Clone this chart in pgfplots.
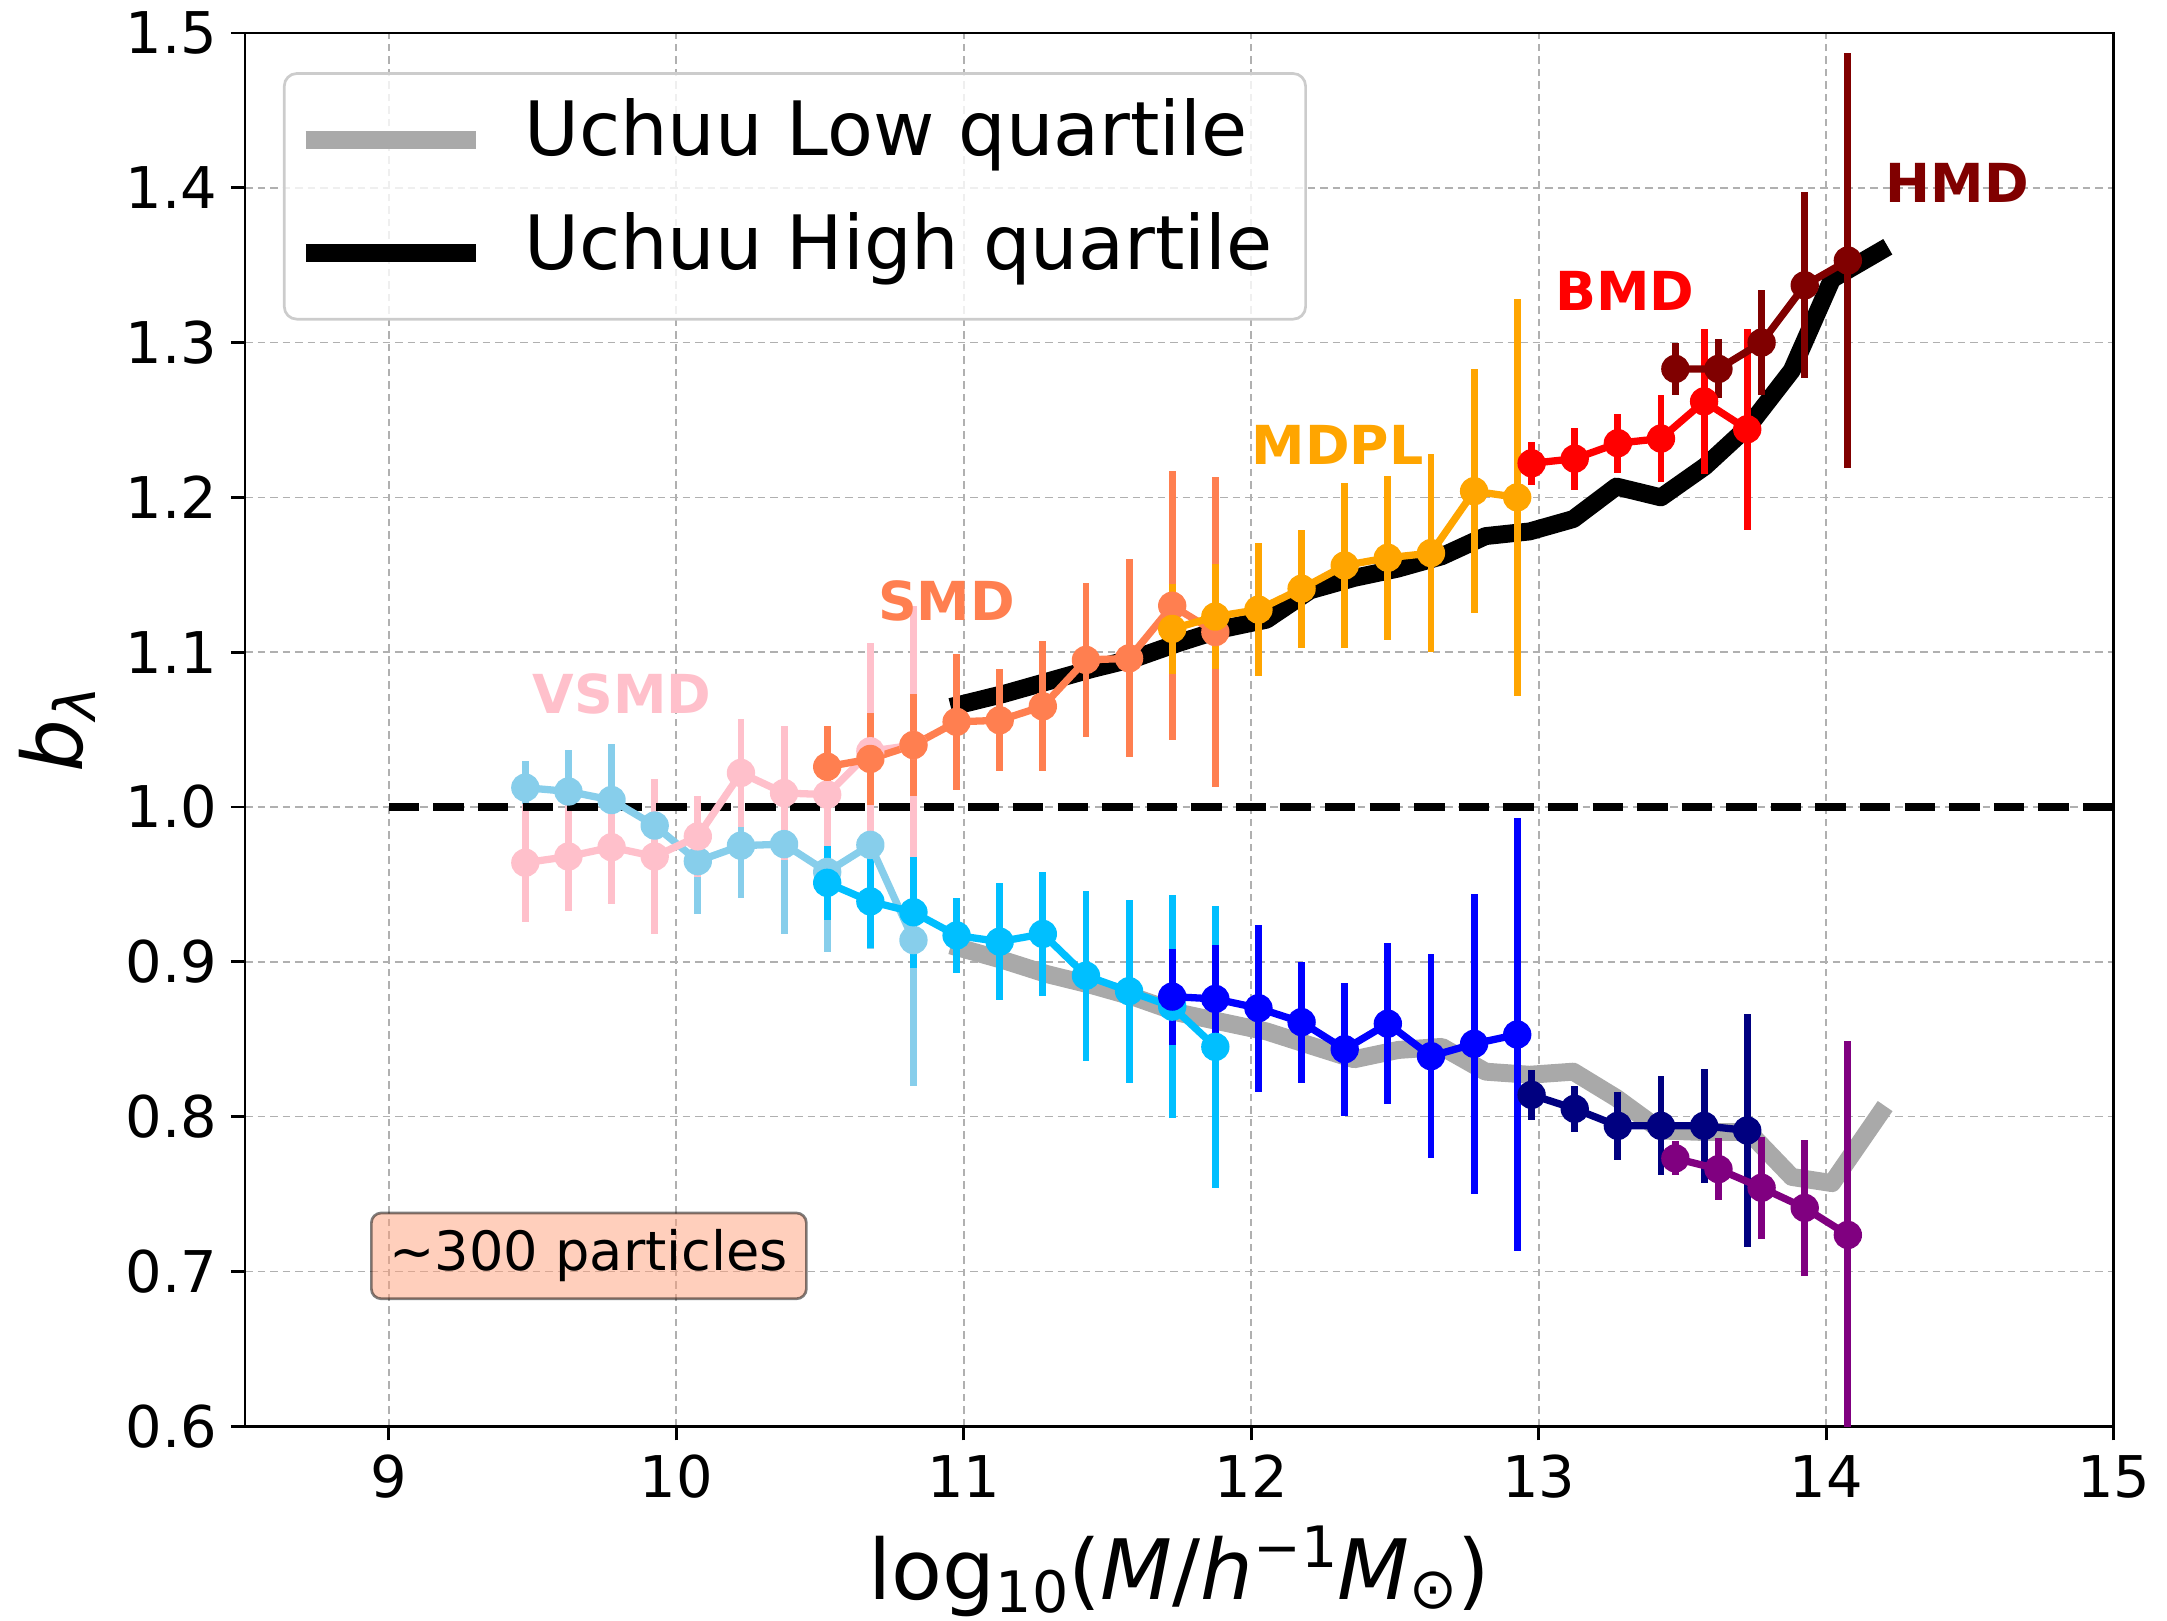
\documentclass[border=0pt]{standalone}
\usepackage{fontspec}
\setmainfont{DejaVu Sans}
\usepackage{pgfplots}
\usepackage{pgfplotstable}
\pgfplotsset{compat=1.18}

\definecolor{cpink}{HTML}{FFC0CB}
\definecolor{cskyblue}{HTML}{87CEEB}
\definecolor{ccoral}{HTML}{FF7F50}
\definecolor{cdeepsky}{HTML}{00BFFF}
\definecolor{corange}{HTML}{FFA500}
\definecolor{cblue}{HTML}{0000FF}
\definecolor{cred}{HTML}{FF0000}
\definecolor{cnavy}{HTML}{000080}
\definecolor{cmaroon}{HTML}{800000}
\definecolor{cpurple}{HTML}{800080}
\definecolor{cgray}{HTML}{A9A9A9}
\definecolor{cgrid}{HTML}{B0B0B0}
\definecolor{csalmon}{HTML}{FFA07A}
\definecolor{clegedge}{HTML}{CCCCCC}

\pgfplotstableread{
x y
10.985 0.909
11.138 0.901
11.290 0.892
11.443 0.885
11.595 0.877
11.748 0.867
11.900 0.861
12.053 0.855
12.205 0.846
12.358 0.837
12.510 0.843
12.663 0.845
12.815 0.829
12.968 0.827
13.120 0.829
13.270 0.812
13.425 0.791
13.578 0.790
13.730 0.790
13.880 0.761
14.020 0.757
14.187 0.802
}\uchuulow

\pgfplotstableread{
x y
10.985 1.066
11.138 1.073
11.290 1.081
11.443 1.089
11.595 1.096
11.748 1.106
11.900 1.115
12.053 1.121
12.205 1.140
12.358 1.148
12.510 1.154
12.663 1.162
12.815 1.175
12.968 1.178
13.120 1.186
13.270 1.207
13.425 1.200
13.578 1.220
13.730 1.246
13.880 1.282
14.020 1.341
14.187 1.359
}\uchuuhigh

\pgfplotstableread{
x y e
9.475 1.0125 0.017
9.625 1.010 0.027
9.775 1.0045 0.036
9.925 0.988 0.020
10.075 0.965 0.034
10.225 0.975 0.034
10.375 0.976 0.058
10.525 0.958 0.052
10.675 0.9755 0.067
10.825 0.914 0.094
}\vsmdlow

\pgfplotstableread{
x y e
9.475 0.964 0.038
9.625 0.968 0.035
9.775 0.974 0.037
9.925 0.968 0.050
10.075 0.981 0.026
10.225 1.022 0.035
10.375 1.009 0.043
10.525 1.008 0.034
10.675 1.036 0.070
10.825 1.040 0.090
}\vsmdhigh

\pgfplotstableread{
x y e
10.525 0.951 0.024
10.675 0.939 0.030
10.825 0.932 0.036
10.975 0.917 0.024
11.125 0.913 0.038
11.275 0.918 0.040
11.425 0.891 0.055
11.575 0.881 0.059
11.725 0.871 0.072
11.875 0.845 0.091
}\smdlow

\pgfplotstableread{
x y e
10.525 1.026 0.026
10.675 1.031 0.030
10.825 1.040 0.033
10.975 1.055 0.044
11.125 1.056 0.033
11.275 1.065 0.042
11.425 1.095 0.050
11.575 1.096 0.064
11.725 1.130 0.087
11.875 1.113 0.100
}\smdhigh

\pgfplotstableread{
x y e
11.725 0.8775 0.031
11.875 0.876 0.035
12.025 0.870 0.054
12.175 0.861 0.039
12.325 0.8435 0.043
12.475 0.860 0.052
12.625 0.839 0.066
12.775 0.847 0.097
12.925 0.853 0.140
}\mdpllow

\pgfplotstableread{
x y e
11.725 1.115 0.029
11.875 1.123 0.034
12.025 1.1275 0.043
12.175 1.141 0.038
12.325 1.156 0.053
12.475 1.161 0.053
12.625 1.164 0.064
12.775 1.204 0.079
12.925 1.200 0.128
}\mdplhigh

\pgfplotstableread{
x y e
12.975 0.814 0.016
13.125 0.805 0.015
13.275 0.794 0.022
13.425 0.794 0.032
13.575 0.794 0.037
13.725 0.791 0.075
}\bmdlow

\pgfplotstableread{
x y e
12.975 1.222 0.014
13.125 1.225 0.020
13.275 1.235 0.019
13.425 1.238 0.028
13.575 1.262 0.047
13.725 1.244 0.065
}\bmdhigh

\pgfplotstableread{
x y e
13.475 0.773 0.011
13.625 0.766 0.020
13.775 0.754 0.033
13.925 0.741 0.044
14.075 0.7235 0.125
}\hmdlow

\pgfplotstableread{
x y e
13.475 1.283 0.017
13.625 1.283 0.019
13.775 1.300 0.034
13.925 1.337 0.060
14.075 1.353 0.134
}\hmdhigh

\pgfplotsset{
  ebar/.style={forget plot, only marks, mark=none,
    error bars/.cd, y dir=both, y explicit, error mark=none,
    error bar style={line width=1.65pt, draw=#1}},
  dline/.style={forget plot, draw=#1, line width=1.75pt, line join=round,
    mark=*, mark size=3.2pt, mark options={solid, fill=#1, draw=#1, line width=0.4pt}},
}
\newcommand{\subs}[2][-3.0pt]{\raisebox{#1}{\fontsize{13.7}{16}\selectfont #2}}
\newcommand{\sups}[1]{\raisebox{7.6pt}{\fontsize{13.7}{16}\selectfont #1}}

\begin{document}
\begin{tikzpicture}
\begin{axis}[
  scale only axis, width=448.5pt, height=334.35pt,
  xmin=8.5, xmax=15, ymin=0.6, ymax=1.5,
  xtick={9,10,11,12,13,14,15},
  ytick={0.6,0.7,0.8,0.9,1.0,1.1,1.2,1.3,1.4,1.5},
  yticklabel style={/pgf/number format/fixed, /pgf/number format/fixed zerofill, /pgf/number format/precision=1},
  /pgf/number format/assume math mode=true,
  tick label style={font=\fontsize{13.8}{16}\selectfont},
  xticklabel style={anchor=north, inner sep=0pt, yshift=-3.4pt},
  yticklabel style={anchor=east, inner sep=0pt, xshift=-3.1pt},
  tick align=outside, tick pos=left, major tick length=3.4pt,
  every tick/.style={black, line width=0.65pt},
  axis line style={line width=0.65pt},
  grid=major,
  major grid style={cgrid, line width=0.4pt, dash pattern=on 1.8pt off 1.2pt},
  xlabel={log\subs{10}(\textit{M}/\textit{h}\sups{−1}\textit{M}\subs[-2.2pt]{⊙})},
  ylabel={\textit{b}\subs{\textit{λ}}},
  label style={font=\fontsize{20}{24}\selectfont},
  xlabel style={at={(axis description cs:0.5,-0.1245)}, anchor=base},
  ylabel style={at={(axis description cs:-0.0867,0.5)}, anchor=base, rotate=0},
  legend style={at={(0,1)}, anchor=north west, xshift=9.1pt, yshift=-9.4pt,
    draw=clegedge, line width=0.65pt, fill=white, fill opacity=0.8,
    draw opacity=1, text opacity=1, rounded corners=3pt,
    inner xsep=3pt, inner ysep=4.1pt, row sep=3.6pt, column sep=9.5pt,
    font=\fontsize{18}{21.6}\selectfont,
    nodes={inner xsep=0pt, inner ysep=2pt, text depth=5.9pt}},
  legend cell align=left,
  legend image code/.code={\draw[#1, line cap=butt] (0pt,0pt) -- (40.8pt,0pt);},
]
\coordinate (sw) at (rel axis cs:0,0);
\coordinate (ne) at (rel axis cs:1,1);

\addplot[cgray, line width=4.3pt, line cap=rect, line join=round] table[x=x,y=y] {\uchuulow};
\addlegendentry{Uchuu Low quartile}
\addplot[black, line width=4.3pt, line cap=rect, line join=round] table[x=x,y=y] {\uchuuhigh};
\addlegendentry{Uchuu High quartile\rule{5pt}{0pt}}

\addplot[ebar=cskyblue] table[x=x,y=y,y error=e] {\vsmdlow};
\addplot[ebar=cpink] table[x=x,y=y,y error=e] {\vsmdhigh};
\addplot[ebar=cdeepsky] table[x=x,y=y,y error=e] {\smdlow};
\addplot[ebar=ccoral] table[x=x,y=y,y error=e] {\smdhigh};
\addplot[ebar=cblue] table[x=x,y=y,y error=e] {\mdpllow};
\addplot[ebar=corange] table[x=x,y=y,y error=e] {\mdplhigh};
\addplot[ebar=cnavy] table[x=x,y=y,y error=e] {\bmdlow};
\addplot[ebar=cred] table[x=x,y=y,y error=e] {\bmdhigh};
\addplot[ebar=cpurple] table[x=x,y=y,y error=e] {\hmdlow};
\addplot[ebar=cmaroon] table[x=x,y=y,y error=e] {\hmdhigh};

\addplot[forget plot, black, line width=2.1pt, dash pattern=on 7.3pt off 3.4pt] coordinates {(9,1) (15,1)};

\addplot[dline=cskyblue] table[x=x,y=y] {\vsmdlow};
\addplot[dline=cpink] table[x=x,y=y] {\vsmdhigh};
\addplot[dline=cdeepsky] table[x=x,y=y] {\smdlow};
\addplot[dline=ccoral] table[x=x,y=y] {\smdhigh};
\addplot[dline=cblue] table[x=x,y=y] {\mdpllow};
\addplot[dline=corange] table[x=x,y=y] {\mdplhigh};
\addplot[dline=cnavy] table[x=x,y=y] {\bmdlow};
\addplot[dline=cred] table[x=x,y=y] {\bmdhigh};
\addplot[dline=cpurple] table[x=x,y=y] {\hmdlow};
\addplot[dline=cmaroon] table[x=x,y=y] {\hmdhigh};

\node[font=\bfseries\fontsize{12.9}{15}\selectfont, text=cpink] at (axis cs:9.811,1.0732) {VSMD};
\node[font=\bfseries\fontsize{12.9}{15}\selectfont, text=ccoral] at (axis cs:10.94,1.133) {SMD};
\node[font=\bfseries\fontsize{12.9}{15}\selectfont, text=corange] at (axis cs:12.30,1.234) {MDPL};
\node[font=\bfseries\fontsize{12.9}{15}\selectfont, text=cred] at (axis cs:13.299,1.3337) {BMD};
\node[font=\bfseries\fontsize{12.9}{15}\selectfont, text=cmaroon] at (axis cs:14.455,1.4034) {HMD};

\node[draw=black, draw opacity=0.5, fill=csalmon, fill opacity=0.5, text opacity=1,
  line width=0.65pt, rounded corners=2.4pt, minimum width=104.4pt, minimum height=20.6pt,
  inner sep=0pt, font=\fontsize{13}{15}\selectfont] at (axis cs:9.696,0.71) {\textasciitilde 300 particles};
\end{axis}
\pgfresetboundingbox
\path[use as bounding box] ([xshift=-58.8pt,yshift=-46.75pt]sw) rectangle ([xshift=12.77pt,yshift=7.92pt]ne);
\end{tikzpicture}
\end{document}
